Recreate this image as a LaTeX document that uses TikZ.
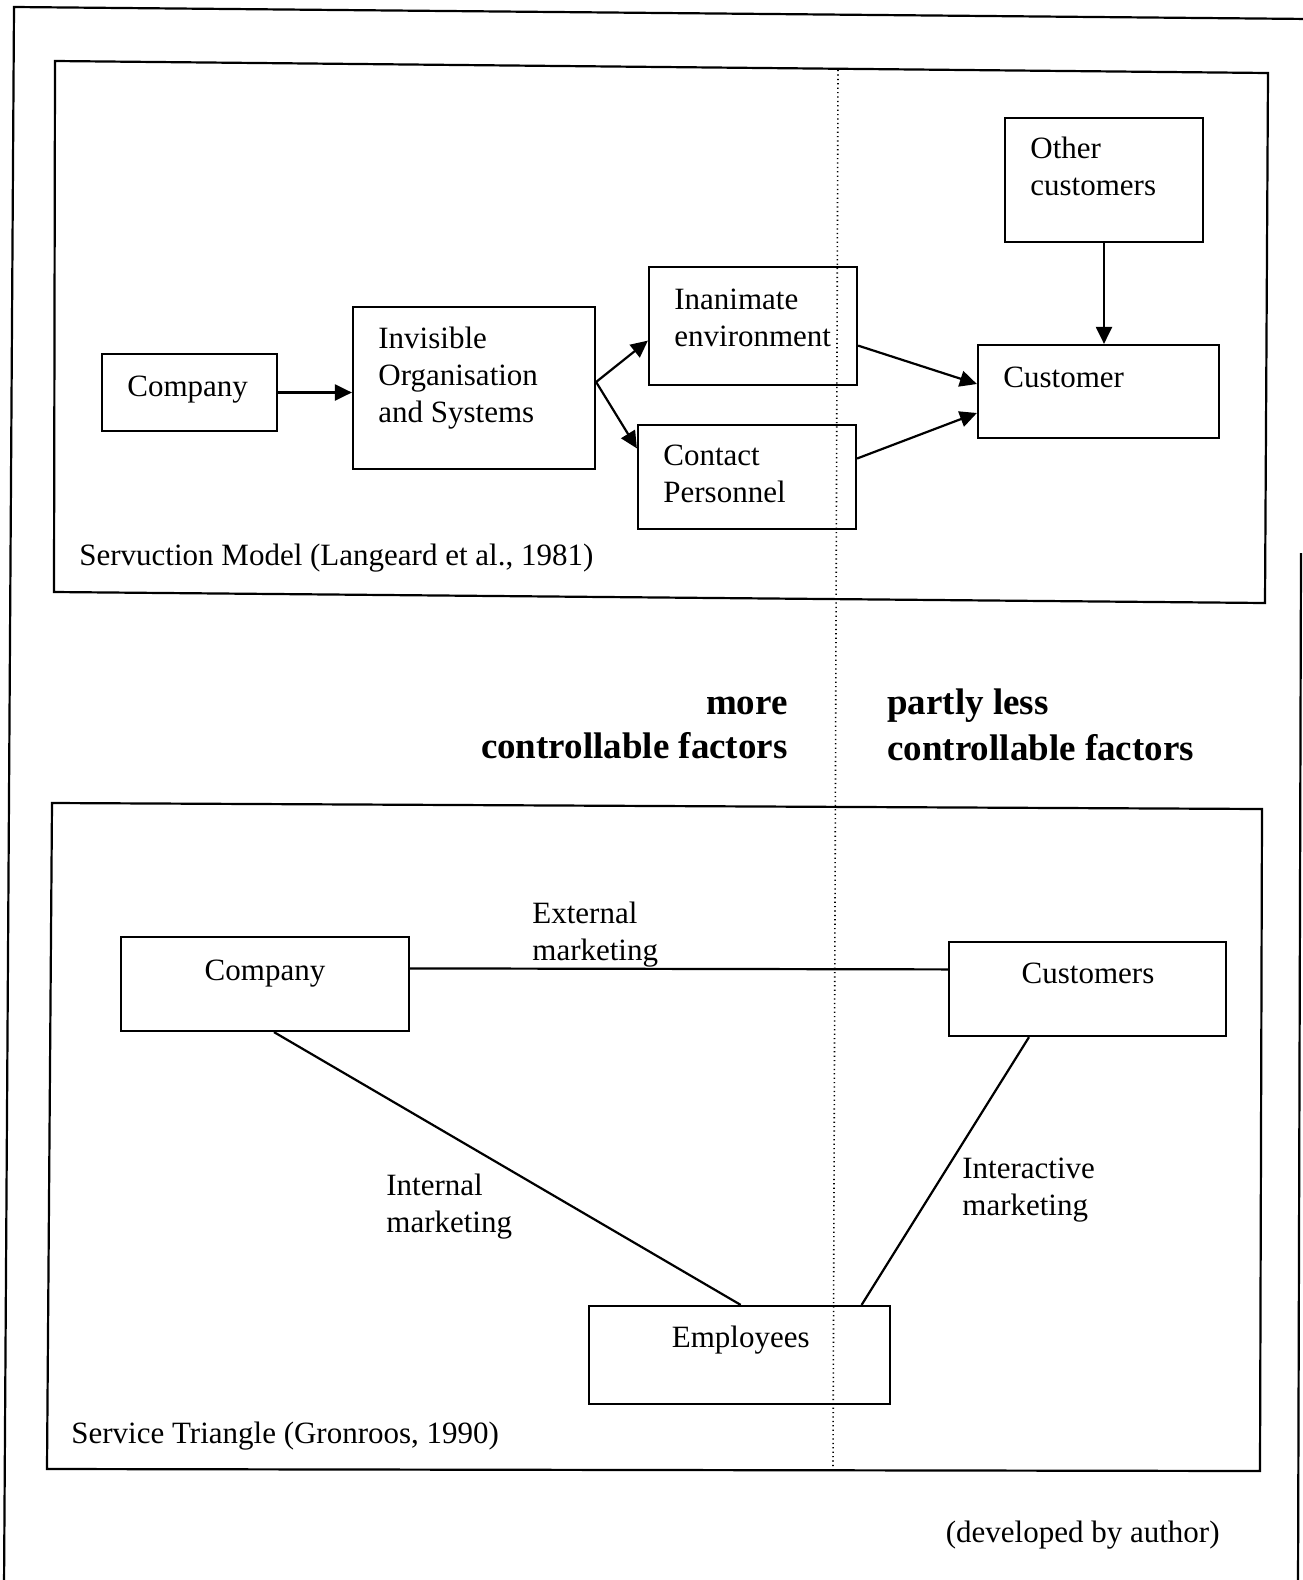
\documentclass[tikz,border=0pt]{standalone}
\usepackage{fontspec}
\setmainfont{Liberation Serif}
\usetikzlibrary{arrows.meta,calc}

\tikzset{
  frame/.style={line width=1.1pt},
  box/.style={draw, line width=1.1pt, rectangle, inner sep=0pt},
  sz/.style 2 args={minimum width=#1*0.5pt, minimum height=#2*0.5pt},
  txt/.style={inner sep=0pt, align=left, font=\fontsize{15.5}{18.5}\selectfont},
  bigtxt/.style={inner sep=0pt, font=\bfseries\fontsize{18.5}{21.5}\selectfont},
  link/.style={line width=1.1pt},
  arr/.style={line width=1.1pt, -{Triangle[length=8.5pt,width=8pt]}},
  divider/.style={line width=0.8pt, dash pattern=on 0.6pt off 1.6pt}
}

\begin{document}
\begin{tikzpicture}[x=0.5pt,y=-0.5pt]
\useasboundingbox (0,0) rectangle (1302,1580);

% outer page frame (runs off the lower and right edges)
\draw[frame] (4,1590) -- (14,7) -- (1310,19);
\draw[frame] (1301,553) -- (1298,1590);

% panel frames
\draw[frame] (55,61) -- (1268,73) -- (1265,603) -- (54,592) -- cycle;
\draw[frame] (52,803) -- (1262,809) -- (1260,1471) -- (47,1469) -- cycle;

% divider between controllable and less controllable factors
\draw[divider] (838,70) -- (833,1468);

% ---------- Servuction model ----------
\node[box, sz={198}{124}] (oc)      at (1104,180)     {};
\node[box, sz={175}{77}]  (comp1)   at (189.5,392.5)  {};
\node[box, sz={242}{162}] (invis)   at (474,388)      {};
\node[box, sz={208}{118}] (inan)    at (753,326)      {};
\node[box, sz={218}{104}] (contact) at (747,477)      {};
\node[box, sz={241}{93}]  (cust)    at (1098.5,391.5) {};

\node[txt, anchor=west] (toc)      at (1030,166.8) {Other\\customers};
\node[txt, anchor=west] (tcomp1)   at (127,390)    {Company};
\node[txt, anchor=west] (tinvis)   at (378,378)    {Invisible\\Organisation\\and Systems};
\node[txt, anchor=west] (tinan)    at (674,317.4)  {Inanimate\\environment};
\node[txt, anchor=west] (tcontact) at (663,473.6)  {Contact\\Personnel};
\node[txt, anchor=west] (tcust)    at (1003,376.9) {Customer};
\node[txt, anchor=west] (tserv)    at (79,558)     {Servuction Model (Langeard et al., 1981)};

\draw[arr] (comp1.east) -- (invis.west |- comp1.east);
\coordinate (fork) at ($(invis.east)+(0,-6)$);
\draw[arr] (fork) -- ($(inan.west)+(0,14.6)$);
\draw[arr] (fork) -- ($(contact.west)+(0,-28.6)$);
\draw[arr] ($(inan.east)+(0,19.6)$) -- ($(cust.west)+(0,-7.5)$);
\draw[arr] ($(contact.east)+(0,-18.5)$) -- ($(cust.west)+(0,21.5)$);
\draw[arr] (oc.south) -- (oc.south |- cust.north);

% ---------- middle headings ----------
\node[bigtxt, anchor=east] (more)  at (788,706.4) {more};
\node[bigtxt, anchor=east] (cfl)   at (788,745.7) {controllable factors};
\node[bigtxt, anchor=west] (pless) at (887,705.4) {partly less};
\node[bigtxt, anchor=west] (cfr)   at (887,747.7) {controllable factors};

% ---------- Service triangle ----------
\node[box, sz={288}{94}] (comp2) at (265,984)    {};
\node[box, sz={277}{94}] (custs) at (1087.5,989) {};
\node[box, sz={301}{98}] (emp)   at (739.5,1355) {};

\node[txt] (tcomp2) at (265,974)    {Company};
\node[txt] (tcusts) at (1088,973)   {Customers};
\node[txt] (temp)   at (740.7,1340) {Employees};

\coordinate (c2s) at (274,1031);
\coordinate (csS) at (1029,1036);
\coordinate (emL) at (740.7,1306);
\coordinate (emR) at (861.6,1306);

\draw[link] ($(comp2.east)+(0,-15.6)$) -- ($(custs.west)+(0,-19.6)$);
\draw[link] (comp2.south -| c2s) -- (emp.north -| emL);
\draw[link] (custs.south -| csS) -- (emp.north -| emR);

\node[txt, anchor=west] (lext) at (532,934.5)  {External\\marketing};
\node[txt, anchor=west] (lint) at (386,1207)   {Internal\\marketing};
\node[txt, anchor=west] (lia)  at (962,1190.5) {Interactive\\marketing};
\node[txt, anchor=west] (tst)  at (71,1436)    {Service Triangle (Gronroos, 1990)};

\node[txt, anchor=east] (dev) at (1220,1535) {(developed by author)};
\end{tikzpicture}
\end{document}
